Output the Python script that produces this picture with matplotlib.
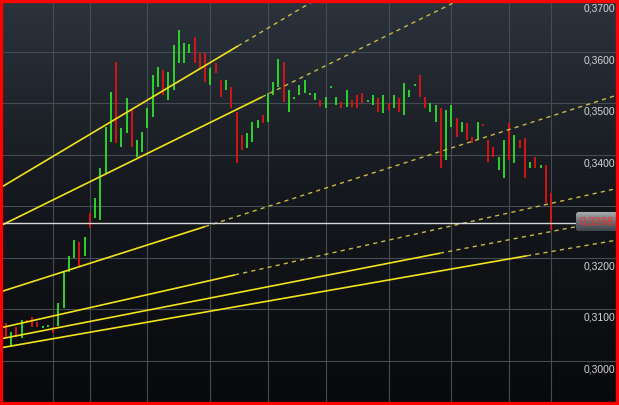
import numpy as np
import matplotlib
matplotlib.use('Agg')
import matplotlib.pyplot as plt
from matplotlib.patches import Rectangle, FancyBboxPatch
from matplotlib.colors import LinearSegmentedColormap

# ---- data ----
opens = [0.30738, 0.30272, 0.30660, 0.30447, 0.30796, 0.30854, 0.30757, 0.30641, 0.30660, 0.30660,
         0.30680, 0.31029, 0.31728, 0.32000, 0.32311, 0.32039, 0.32874, 0.32777, 0.32738, 0.33651,
         0.34253, 0.35806, 0.34155, 0.34427, 0.34874, 0.33961, 0.34058, 0.34524, 0.34738, 0.35320,
         0.35651, 0.35068, 0.35262, 0.35786, 0.35786, 0.35981, 0.36291, 0.35981, 0.35981, 0.35359,
         0.35786, 0.35456, 0.35262, 0.35320, 0.34835, 0.34388, 0.34136, 0.34253, 0.34524, 0.34777,
         0.34641, 0.35165, 0.35320, 0.35806, 0.34835, 0.35087, 0.35165, 0.35204, 0.35165, 0.35068,
         0.35068, 0.34913, 0.35301, 0.34971, 0.35029, 0.34932, 0.35068, 0.35165, 0.35204, 0.35029,
         0.34971, 0.35107, 0.34816, 0.35010, 0.34913, 0.35107, 0.34777, 0.35126, 0.35340, 0.35553,
         0.35126, 0.34835, 0.34641, 0.34913, 0.33903, 0.34544, 0.34719, 0.34447, 0.34621, 0.34350,
         0.34291, 0.34602, 0.34291, 0.34155, 0.33709, 0.33553, 0.34621, 0.33845, 0.34291, 0.34330,
         0.33748, 0.33961, 0.33748, 0.33806, 0.33262]
closes = [0.30447, 0.30563, 0.30466, 0.30796, 0.30738, 0.30660, 0.30660, 0.30680, 0.30699, 0.30544,
          0.31126, 0.31728, 0.32039, 0.32350, 0.31825, 0.32408, 0.32583, 0.33165, 0.33748, 0.34544,
          0.35223, 0.34233, 0.34524, 0.35107, 0.34155, 0.34291, 0.34447, 0.34913, 0.35553, 0.35709,
          0.35165, 0.35612, 0.36136, 0.36427, 0.36175, 0.36155, 0.35786, 0.35689, 0.35418, 0.35689,
          0.35592, 0.35126, 0.35456, 0.34913, 0.33845, 0.34097, 0.34427, 0.34641, 0.34680, 0.34621,
          0.35204, 0.35418, 0.35864, 0.35029, 0.35262, 0.35126, 0.35359, 0.35456, 0.35204, 0.35204,
          0.34932, 0.35126, 0.35340, 0.35126, 0.34913, 0.35262, 0.34932, 0.34913, 0.35010, 0.35068,
          0.35165, 0.34835, 0.35165, 0.34874, 0.35165, 0.34835, 0.35398, 0.35262, 0.35379, 0.35126,
          0.34913, 0.35010, 0.34971, 0.33748, 0.34874, 0.34971, 0.34350, 0.34641, 0.34291, 0.34233,
          0.34641, 0.34563, 0.33864, 0.33961, 0.33961, 0.34291, 0.33903, 0.34388, 0.34136, 0.33553,
          0.33864, 0.33748, 0.33806, 0.33068, 0.32544]

price_levels = [0.30, 0.31, 0.32, 0.33, 0.34, 0.35, 0.36, 0.37]
price_labels = ['0,3000', '0,3100', '0,3200', '0,3300', '0,3400', '0,3500', '0,3600', '0,3700']
vgrid_idx = [9, 16, 27, 39, 50, 61, 73, 85, 96, 104]
last_price = 0.3268
last_label = '0,3268'

# trendlines: start, end of solid part, far end (dashed)
trend_x = [[-1.145, 44.27, 116.98],
           [-1.145, 48.85, 116.98],
           [-1.145, 37.98, 116.98],
           [-1.145, 43.70, 116.98],
           [-1.145, 82.82, 116.98],
           [-1.145, 99.43, 116.98]]
trend_y = [[0.33359, 0.36117, 0.40534],
           [0.32621, 0.35126, 0.38534],
           [0.31340, 0.32610, 0.35175],
           [0.30641, 0.31672, 0.33359],
           [0.30427, 0.32093, 0.32771],
           [0.30253, 0.32043, 0.32355]]

# ---- figure ----
W, H = 619, 405
fig = plt.figure(figsize=(W / 100, H / 100), dpi=100)
ax = fig.add_axes([0, 0, 1, 1])
ax.axis('off')

cmap_bg = LinearSegmentedColormap.from_list('bg', ['#08090b', '#14171c', '#2c333d'])
grad = np.linspace(1, 0, 256).reshape(-1, 1)
ax.imshow(grad, extent=[0, 1, 0, 1], transform=ax.transAxes, aspect='auto',
          cmap=cmap_bg, zorder=0, interpolation='bilinear')

XMIN, XMAX = -1.145, 116.98
YMIN, YMAX = 0.291456, 0.370097
px = (YMAX - YMIN) / H

for lv in price_levels:
    ax.axhline(lv, color='#474c52', lw=0.8, zorder=1)
for v in vgrid_idx:
    ax.axvline(v, color='#474c52', lw=0.8, zorder=1)

# candles
for i, (o, c) in enumerate(zip(opens, closes)):
    col = '#2ee02e' if c >= o else '#e01414'
    ax.vlines(i, min(o, c), max(o, c), color=col, lw=1.3, zorder=3)

# trendlines
for xs, ys in zip(trend_x, trend_y):
    ax.plot(xs[:2], ys[:2], color='#f2e21a', lw=1.2, zorder=4, solid_capstyle='butt')
    ax.plot(xs[1:], ys[1:], color='#c9bb45', lw=1.0, zorder=4, dashes=(3, 3))

# last price line
ax.axhline(last_price, color='#d8d8d8', lw=1.0, zorder=5)

# price labels (the one hidden behind the last-price box is not drawn)
for lv, lb in zip(price_levels, price_labels):
    if abs(lv - last_price) < 25 * px:
        continue
    ax.text(0.9935, lv - 8.5 * px, lb, transform=ax.get_yaxis_transform(),
            ha='right', va='center', color='#d5d5d5', fontsize=7.5,
            family='Liberation Sans', zorder=6)

ax.set_xlim(XMIN, XMAX)
ax.set_ylim(YMIN, YMAX)

# last price box
ydisp = H - 222
bx0, by0, bw, bh = 576, ydisp - 9, 42, 19
box = FancyBboxPatch((bx0, by0), bw, bh, boxstyle='round,pad=0,rounding_size=3',
                     transform=None, facecolor='#6a6e72', edgecolor='none', zorder=7)
fig.patches.append(box)
cmap_box = LinearSegmentedColormap.from_list('bx', ['#a8aaac', '#6a6e72', '#41464d'])
garr = np.linspace(0, 1, bh).reshape(-1, 1) * np.ones((1, bw))
bim = fig.figimage(garr, xo=bx0, yo=by0, cmap=cmap_box, zorder=8, origin='upper')
bim.set_clip_path(box)
fig.text((bx0 + bw / 2) / W, (ydisp + 0.5) / H, last_label, ha='center', va='center',
         color='#ff2a2a', fontsize=8, family='Liberation Sans', zorder=9)

# red frame
fig.patches.append(Rectangle((0, 0), 1, 1, transform=fig.transFigure, fill=False,
                             edgecolor='#ff0000', lw=4.5, zorder=20))

fig.savefig('out.png', dpi=100)
